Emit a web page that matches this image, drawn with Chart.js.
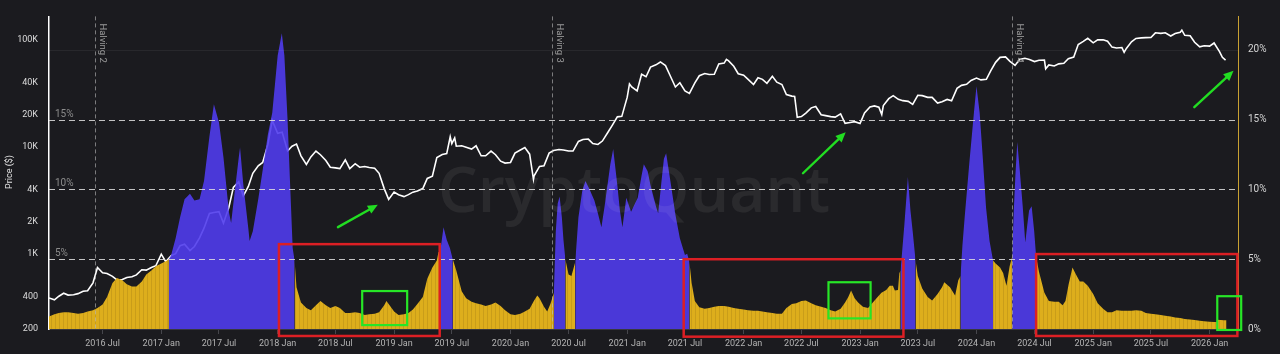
<!DOCTYPE html>
<html><head><meta charset="utf-8"><title>BTC price vs ratio</title>
<script src="https://cdn.jsdelivr.net/npm/chart.js@4.4.1/dist/chart.umd.min.js"></script>
<style>html,body{margin:0;padding:0;background:#1b1b1f;overflow:hidden}canvas{display:block}</style>
</head><body>
<canvas id="c" width="1280" height="354" style="width:1280px;height:354px"></canvas>
<script>
// ---------------- DATA ----------------
const priceDates = [
'2016-01-15','2016-02-01','2016-02-15','2016-03-01','2016-03-15','2016-04-01','2016-04-15','2016-05-01','2016-05-15','2016-06-01','2016-06-15','2016-07-01','2016-07-15','2016-08-01','2016-08-15','2016-09-01','2016-09-15','2016-10-01','2016-10-15','2016-11-01','2016-11-15','2016-12-01','2016-12-15',
'2017-01-01','2017-01-15','2017-02-01','2017-02-15','2017-03-01','2017-03-15','2017-04-01','2017-04-15','2017-05-01','2017-05-15','2017-06-01','2017-06-15','2017-07-01','2017-07-15','2017-08-01','2017-08-15','2017-09-01','2017-09-15','2017-10-01','2017-10-15','2017-11-01','2017-11-15','2017-12-01','2017-12-15',
'2018-01-01','2018-01-15','2018-02-01','2018-02-15','2018-03-01','2018-03-15','2018-04-01','2018-04-15','2018-05-01','2018-05-15','2018-06-01','2018-06-15','2018-07-01','2018-07-15','2018-08-01','2018-08-15','2018-09-01','2018-09-15','2018-10-01','2018-10-15','2018-11-01','2018-11-15','2018-12-01','2018-12-15',
'2019-01-01','2019-01-15','2019-02-01','2019-02-15','2019-03-01','2019-03-15','2019-04-01','2019-04-15','2019-05-01','2019-05-15','2019-06-01','2019-06-15','2019-06-26','2019-07-01','2019-07-10','2019-07-15','2019-08-01','2019-08-15','2019-09-01','2019-09-15','2019-10-01','2019-10-15','2019-11-01','2019-11-15','2019-12-01','2019-12-15',
'2020-01-01','2020-01-15','2020-02-01','2020-02-15','2020-03-01','2020-03-13','2020-03-15','2020-04-01','2020-04-15','2020-05-01','2020-05-15','2020-06-01','2020-06-15','2020-07-01','2020-07-15','2020-08-01','2020-08-15','2020-09-01','2020-09-15','2020-10-01','2020-10-15','2020-11-01','2020-11-15','2020-12-01','2020-12-15',
'2021-01-01','2021-01-08','2021-01-15','2021-02-01','2021-02-15','2021-03-01','2021-03-15','2021-04-01','2021-04-15','2021-05-01','2021-05-15','2021-06-01','2021-06-15','2021-07-01','2021-07-15','2021-08-01','2021-08-15','2021-09-01','2021-09-15','2021-10-01','2021-10-15','2021-11-01','2021-11-08','2021-11-15','2021-12-01','2021-12-15',
'2022-01-01','2022-01-15','2022-02-01','2022-02-15','2022-03-01','2022-03-15','2022-04-01','2022-04-15','2022-05-01','2022-05-15','2022-06-01','2022-06-10','2022-06-18','2022-07-01','2022-07-15','2022-08-01','2022-08-15','2022-09-01','2022-09-15','2022-10-01','2022-10-15','2022-11-01','2022-11-15','2022-12-01','2022-12-15',
'2023-01-01','2023-01-15','2023-02-01','2023-02-15','2023-03-01','2023-03-10','2023-03-15','2023-04-01','2023-04-15','2023-05-01','2023-05-15','2023-06-01','2023-06-15','2023-07-01','2023-07-15','2023-08-01','2023-08-15','2023-09-01','2023-09-15','2023-10-01','2023-10-15','2023-11-01','2023-11-15','2023-12-01','2023-12-15',
'2024-01-01','2024-01-15','2024-02-01','2024-02-15','2024-03-01','2024-03-15','2024-04-01','2024-04-15','2024-05-01','2024-05-15','2024-06-01','2024-06-15','2024-07-01','2024-07-15','2024-08-01','2024-08-05','2024-08-15','2024-09-01','2024-09-15','2024-10-01','2024-10-15','2024-11-01','2024-11-15','2024-12-01','2024-12-15',
'2025-01-01','2025-01-15','2025-02-01','2025-02-15','2025-03-01','2025-03-15','2025-04-01','2025-04-08','2025-04-15','2025-05-01','2025-05-15','2025-06-01','2025-06-15','2025-07-01','2025-07-15','2025-08-01','2025-08-15','2025-09-01','2025-09-15','2025-10-01','2025-10-06','2025-10-15','2025-11-01','2025-11-15','2025-12-01','2025-12-15',
'2026-01-01','2026-01-15','2026-02-01','2026-02-10','2026-02-20'
];
const priceValues = [
390,375,405,432,415,418,428,450,455,540,750,670,660,620,575,580,605,615,640,715,710,750,780,
1000,850,970,1010,1200,1240,1080,1180,1420,1750,2400,2450,2500,1950,2750,4200,4750,3500,4300,5700,6700,7200,10500,17800,
13500,13800,9200,10200,10700,8300,6900,8100,9200,8500,7500,6500,6400,6300,7600,6300,7000,6500,6600,6450,6350,5700,4100,3250,
3800,3600,3450,3600,3800,3900,4100,5100,5350,8000,8550,8700,12500,10800,12200,10200,10300,10000,9600,10300,8300,8300,9200,8500,7400,7100,
7200,8800,9400,9900,8600,5000,5400,6600,6700,8800,9300,9500,9400,9200,9200,11300,11800,11900,10800,10600,11400,13700,16000,19200,19400,
29300,39000,36500,33500,48000,45500,56000,58800,62500,57800,47000,36500,40000,33500,31800,39800,46500,48800,47700,48000,60000,61000,66000,64000,57000,48500,
47000,43000,38500,44500,43000,39500,46000,40500,38500,31000,30000,29800,19000,19300,20800,23300,24000,20100,19700,19300,19100,20500,16700,17000,17300,
16600,20900,23700,24300,23600,20200,24500,28400,30300,28000,27200,26800,25100,30500,30300,29200,29200,25800,26600,27900,27100,35400,37800,38700,42000,
44200,42500,43000,52000,62000,69000,69700,63400,58000,66000,67700,66000,63000,64800,65000,54000,58700,57300,60000,60800,67000,69500,91000,97200,104000,
94400,100500,100600,97500,86000,84300,85200,77000,83700,96500,103700,105000,105500,105700,117000,115700,117300,109200,115300,118600,124000,111000,110000,95500,86500,88500,
88000,94000,78000,69000,65000
];

const ratioDates = [
'2016-01-15','2016-02-01','2016-02-15','2016-03-01','2016-03-15','2016-04-01','2016-04-15','2016-05-01','2016-05-15','2016-06-01','2016-06-15','2016-07-01','2016-07-15','2016-08-01','2016-08-15','2016-09-01','2016-09-15','2016-10-01','2016-10-15','2016-11-01','2016-11-15','2016-12-01','2016-12-15',
'2017-01-01','2017-01-15','2017-01-25','2017-02-01','2017-02-15','2017-03-01','2017-03-15','2017-04-01','2017-04-15','2017-05-01','2017-05-15','2017-06-01','2017-06-15','2017-07-01','2017-07-15','2017-08-01','2017-08-08','2017-08-15','2017-09-01','2017-09-05','2017-09-15','2017-10-01','2017-10-05','2017-10-15','2017-11-01','2017-11-15','2017-12-01','2017-12-15',
'2018-01-01','2018-01-14','2018-01-22','2018-02-01','2018-02-10','2018-02-17','2018-02-23','2018-03-01','2018-03-15','2018-04-01','2018-04-15','2018-05-01','2018-05-15','2018-06-01','2018-06-15','2018-07-01','2018-07-15','2018-08-01','2018-08-15','2018-09-01','2018-09-15','2018-10-01','2018-10-15','2018-11-01','2018-11-15','2018-12-01','2018-12-08','2018-12-15',
'2019-01-01','2019-01-15','2019-02-01','2019-02-15','2019-03-01','2019-03-15','2019-04-01','2019-04-15','2019-05-01','2019-05-15','2019-05-20','2019-05-26','2019-06-05','2019-06-15','2019-06-25','2019-07-04','2019-07-15','2019-08-01','2019-08-15','2019-09-01','2019-09-15','2019-10-01','2019-10-15','2019-11-01','2019-11-15','2019-12-01','2019-12-15',
'2020-01-01','2020-01-15','2020-02-01','2020-02-15','2020-03-01','2020-03-15','2020-03-25','2020-04-01','2020-04-15','2020-04-25','2020-05-05','2020-05-12','2020-05-16','2020-05-22','2020-05-28','2020-06-03','2020-06-10','2020-06-15','2020-06-21','2020-07-01','2020-07-10','2020-07-22','2020-08-01','2020-08-13','2020-08-23','2020-09-05','2020-09-20','2020-10-01','2020-10-12','2020-10-22','2020-10-31','2020-11-09','2020-11-18','2020-12-01','2020-12-09','2020-12-17','2020-12-29',
'2021-01-13','2021-02-03','2021-02-15','2021-02-22','2021-03-06','2021-03-15','2021-04-01','2021-04-08','2021-04-18','2021-04-26','2021-05-03','2021-05-15','2021-06-01','2021-06-15','2021-07-01','2021-07-08','2021-07-15','2021-07-22','2021-08-01','2021-08-15','2021-09-01','2021-09-15','2021-10-01','2021-10-15','2021-11-01','2021-11-15','2021-12-01','2021-12-15',
'2022-01-01','2022-01-15','2022-02-01','2022-02-15','2022-03-01','2022-03-15','2022-04-01','2022-04-15','2022-05-01','2022-05-15','2022-06-01','2022-06-15','2022-07-01','2022-07-15','2022-08-01','2022-08-15','2022-09-01','2022-09-15','2022-10-01','2022-10-15','2022-11-01','2022-11-15','2022-11-25','2022-12-04','2022-12-15','2022-12-26',
'2023-01-10','2023-01-26','2023-02-10','2023-02-25','2023-03-09','2023-03-24','2023-04-04','2023-04-14','2023-04-20','2023-04-30','2023-05-04','2023-05-08','2023-05-20','2023-05-31','2023-06-08','2023-06-15','2023-06-24','2023-07-01','2023-07-15','2023-08-01','2023-08-15','2023-09-01','2023-09-15','2023-09-22','2023-10-10','2023-10-26','2023-11-05','2023-11-12','2023-11-18','2023-11-25','2023-12-10','2023-12-24',
'2024-01-01','2024-01-11','2024-01-21','2024-01-31','2024-02-11','2024-02-22','2024-03-01','2024-03-15','2024-03-25','2024-04-04','2024-04-14','2024-04-22','2024-04-27','2024-05-02','2024-05-08','2024-05-16','2024-05-25','2024-06-02','2024-06-08','2024-06-14','2024-06-22','2024-06-30','2024-07-06','2024-07-15','2024-08-01','2024-08-15','2024-09-01','2024-09-15','2024-09-27','2024-10-06','2024-10-16','2024-10-28','2024-11-08','2024-11-20','2024-12-01','2024-12-15',
'2025-01-01','2025-01-15','2025-02-01','2025-02-15','2025-03-01','2025-03-15','2025-04-01','2025-04-15','2025-05-01','2025-05-15','2025-06-01','2025-06-15','2025-07-01','2025-07-15','2025-08-01','2025-08-15','2025-09-01','2025-09-15','2025-10-01','2025-10-15','2025-11-01','2025-11-15','2025-12-01','2025-12-15',
'2026-01-01','2026-01-15','2026-01-23','2026-01-24','2026-02-05','2026-02-15','2026-02-23'
];
const ratioValues = [
0.9,1.05,1.15,1.2,1.2,1.15,1.1,1.15,1.25,1.35,1.5,1.75,2.3,3.3,3.65,3.5,3.2,3.05,3.05,3.4,3.9,4.2,4.5,
4.7,4.85,5.0,5.3,6.5,8.0,9.3,9.7,9.2,9.3,10.6,13.8,16.1,14.8,12.3,8.4,7.6,9.0,12.3,13.0,10.4,7.2,6.3,7.0,9.3,11.4,13.9,15.5,
19.6,21.2,19.6,15.0,9.8,5.8,4.9,3.0,1.9,1.5,1.35,1.7,2.0,1.7,1.5,1.65,1.5,1.15,1.15,1.2,1.15,1.0,1.05,1.1,1.2,1.7,2.0,1.8,
1.25,1.0,1.05,1.15,1.4,1.8,2.3,3.6,4.4,4.9,5.5,5.6,7.3,6.4,5.8,5.0,4.2,2.7,2.2,1.95,1.85,1.75,1.65,1.75,1.9,1.65,1.35,
1.05,1.0,1.1,1.25,1.45,2.05,2.4,2.2,1.6,1.25,1.8,2.3,2.6,7.0,9.0,9.5,8.0,6.4,5.0,3.9,3.8,4.8,8.0,9.9,10.6,10.0,9.2,8.3,7.3,8.8,10.3,11.8,12.9,10.3,8.5,7.3,9.4,
8.4,9.4,11.0,11.8,11.3,10.3,8.8,8.3,10.5,12.2,12.6,10.8,8.2,6.5,5.3,5.4,4.8,3.3,2.0,1.55,1.45,1.5,1.6,1.65,1.65,1.6,1.5,1.45,
1.4,1.35,1.3,1.3,1.25,1.2,1.15,1.1,1.1,1.5,1.8,1.85,2.0,2.05,1.85,1.7,1.6,1.5,1.35,1.25,1.45,1.9,2.3,2.75,2.2,1.9,
1.6,1.5,1.9,2.3,2.6,2.8,3.1,3.1,2.75,2.8,4.0,4.2,7.5,10.9,8.5,7.0,4.9,3.8,2.9,2.3,2.05,2.5,3.0,3.35,3.0,2.4,3.5,3.8,6.0,8.0,12.0,15.5,
17.4,15.5,12.2,8.7,6.3,4.9,4.7,4.4,4.0,3.1,4.5,5.2,8.5,11.0,13.4,11.3,8.8,6.2,7.4,8.5,8.8,7.0,5.2,4.1,2.6,2.0,1.95,1.95,1.7,2.0,3.2,4.4,3.9,3.4,3.4,3.1,
2.5,1.85,1.45,1.2,1.2,1.35,1.3,1.3,1.3,1.35,1.3,1.15,1.1,1.05,1.0,0.95,0.9,0.82,0.78,0.72,0.68,0.64,0.6,0.56,
0.52,0.5,0.5,0.66,0.65,0.63,0.62
];
// periods drawn in purple (start, end); everything else is yellow
const purpleSpans = [
['2017-01-25','2018-02-23'],['2019-05-26','2019-07-04'],['2020-05-16','2020-06-21'],['2020-07-22','2021-07-15'],
['2023-05-08','2023-06-24'],['2023-11-12','2024-02-22'],['2024-04-22','2024-07-06']
];

const xRange = ['2016-01-15','2026-03-31'];
const xTickDates = ['2016-07-01','2017-01-01','2017-07-01','2018-01-01','2018-07-01','2019-01-01','2019-07-01','2020-01-01','2020-07-01','2021-01-01','2021-07-01','2022-01-01','2022-07-01','2023-01-01','2023-07-01','2024-01-01','2024-07-01','2025-01-01','2025-07-01','2026-01-01'];
const xTickLabels = ['2016 Jul','2017 Jan','2017 Jul','2018 Jan','2018 Jul','2019 Jan','2019 Jul','2020 Jan','2020 Jul','2021 Jan','2021 Jul','2022 Jan','2022 Jul','2023 Jan','2023 Jul','2024 Jan','2024 Jul','2025 Jan','2025 Jul','2026 Jan'];
const priceTicks = [200,400,1000,2000,4000,10000,20000,40000,100000];
const priceTickLabels = ['200','400','1K','2K','4K','10K','20K','40K','100K'];
const priceRange = [200,166600];
const ratioTicks = [0,5,10,15,20];
const ratioRange = [0,22.4];
const levelLines = [5,10,15];
const halvingDates = ['2016-06-08','2020-05-11','2024-04-20'];
const halvingLabels = ['Halving 2','Halving 3','Halving 4'];
// annotations: [startDate, endDate, lowPct, highPct]
const redBoxes = [['2018-01-05','2019-05-24',-0.5,6.08],['2021-06-27','2023-05-17',-0.55,5.0],['2024-07-06','2026-03-29',-0.5,5.37]];
const greenBoxes = [['2018-09-23','2019-02-11',0.28,2.72],['2022-09-24','2023-02-03',0.76,3.35],['2026-01-25','2026-04-10',-0.07,2.35]];
// arrows: [fromDate, fromPct, toDate, toPct]
const arrows = [['2018-07-09',7.3,'2018-11-11',8.9],['2022-07-06',11.16,'2022-11-17',14.1],['2025-11-14',15.9,'2026-03-17',18.5]];
const watermarkText = 'CryptoQuant';
const axisTitle = 'Price ($)';

// ---------------- BUILD ----------------
const day = s => Date.UTC(+s.slice(0,4), +s.slice(5,7)-1, +s.slice(8,10)) / 864e5;
const spans = purpleSpans.map(([a,b]) => [day(a), day(b)]);
const inPurple = d => spans.some(([a,b]) => d >= a && d <= b);
const inPurpleInside = d => spans.some(([a,b]) => d > a && d < b);

const pricePts = priceDates.map((d,i) => ({x: day(d), y: priceValues[i]}));
const yellowPts = ratioDates.map((d,i) => ({x: day(d), y: inPurpleInside(day(d)) ? null : ratioValues[i]}));
const purplePts = ratioDates.map((d,i) => ({x: day(d), y: inPurple(day(d)) ? ratioValues[i] : null}));

// subtle bar-stripe pattern for the yellow area
const pc = document.createElement('canvas'); pc.width = 4; pc.height = 4;
const pctx = pc.getContext('2d');
pctx.fillStyle = '#ddae1c'; pctx.fillRect(0,0,4,4);
pctx.fillStyle = '#c99d19'; pctx.fillRect(3,0,1,4);
const yellowFill = document.getElementById('c').getContext('2d').createPattern(pc, 'repeat');

const overlay = {
  id: 'overlay',
  afterDatasetsDraw(chart) {
    const {ctx, chartArea: a, scales} = chart;
    const X = scales.x, R = scales.yR;
    const px = d => X.getPixelForValue(day(d));
    const line = (x1,y1,x2,y2) => { ctx.beginPath(); ctx.moveTo(x1,y1); ctx.lineTo(x2,y2); ctx.stroke(); };
    ctx.save();
    // watermark, fitted to ~392px wide
    ctx.font = '600 70px "Open Sans"';
    const fs = 70 * 392 / ctx.measureText(watermarkText).width;
    ctx.font = '600 ' + fs.toFixed(1) + 'px "Open Sans"';
    ctx.fillStyle = 'rgba(255,255,255,0.065)';
    ctx.textAlign = 'center'; ctx.textBaseline = 'alphabetic';
    ctx.fillText(watermarkText, 634, 212);
    // faint grid at 20%
    ctx.strokeStyle = 'rgba(255,255,255,0.06)'; ctx.lineWidth = 1;
    const g = Math.round(R.getPixelForValue(20)) + 0.5; line(a.left, g, a.right, g);
    // dashed level lines
    ctx.setLineDash([6,4]); ctx.strokeStyle = 'rgba(225,225,225,0.85)'; ctx.lineWidth = 1.2;
    levelLines.forEach(v => { const y = Math.round(R.getPixelForValue(v)) + 0.5; line(a.left, y, a.right, y); });
    ctx.setLineDash([]);
    ctx.font = '10px Roboto'; ctx.fillStyle = '#8c8c8c'; ctx.textAlign = 'left';
    levelLines.forEach(v => ctx.fillText(v + '%', a.left + 6, R.getPixelForValue(v) - 3));
    // halving lines
    halvingDates.forEach((d,i) => {
      const x = Math.round(px(d)) + 0.5;
      ctx.setLineDash([4,3]); ctx.strokeStyle = 'rgba(190,190,190,0.6)'; ctx.lineWidth = 1;
      line(x, a.top, x, a.bottom);
      ctx.setLineDash([]);
      ctx.save(); ctx.translate(x + 2, a.top + 7); ctx.rotate(Math.PI/2);
      ctx.font = '9.5px Roboto'; ctx.fillStyle = '#9a9a9a'; ctx.textBaseline = 'bottom'; ctx.textAlign = 'left';
      ctx.fillText(halvingLabels[i], 0, 0); ctx.restore();
    });
    // axis title
    ctx.save(); ctx.translate(10, 172); ctx.rotate(-Math.PI/2);
    ctx.font = '9px Roboto'; ctx.fillStyle = '#e0e0e0'; ctx.textAlign = 'center'; ctx.textBaseline = 'middle';
    ctx.fillText(axisTitle, 0, 0); ctx.restore();
    // boxes
    const box = (b, color, w) => {
      const x1 = px(b[0]), x2 = px(b[1]), y1 = R.getPixelForValue(b[3]), y2 = R.getPixelForValue(b[2]);
      ctx.strokeStyle = color; ctx.lineWidth = w; ctx.strokeRect(x1, y1, x2 - x1, y2 - y1);
    };
    redBoxes.forEach(b => box(b, '#dc1f24', 2.5));
    greenBoxes.forEach(b => box(b, '#27e627', 2.2));
    // arrows
    arrows.forEach(r => {
      const x1 = px(r[0]), y1 = R.getPixelForValue(r[1]), x2 = px(r[2]), y2 = R.getPixelForValue(r[3]);
      const ang = Math.atan2(y2 - y1, x2 - x1), hl = 10, hw = 4.5;
      ctx.strokeStyle = ctx.fillStyle = '#22dd22'; ctx.lineWidth = 2.4; ctx.lineCap = 'round';
      line(x1, y1, x2 - hl * 0.8 * Math.cos(ang), y2 - hl * 0.8 * Math.sin(ang));
      const bx = x2 - hl * Math.cos(ang), by = y2 - hl * Math.sin(ang);
      ctx.beginPath(); ctx.moveTo(x2, y2);
      ctx.lineTo(bx + hw * Math.sin(ang), by - hw * Math.cos(ang));
      ctx.lineTo(bx - hw * Math.sin(ang), by + hw * Math.cos(ang));
      ctx.closePath(); ctx.fill();
    });
    ctx.restore();
  }
};

Chart.defaults.font.family = 'Roboto';
new Chart(document.getElementById('c'), {
  type: 'line',
  data: { datasets: [
    { label: 'Price', data: pricePts, yAxisID: 'yP', borderColor: '#ffffff', borderWidth: 1.6, pointRadius: 0, fill: false, order: 3 },
    { label: 'Ratio', data: yellowPts, yAxisID: 'yR', borderColor: 'rgba(0,0,0,0)', borderWidth: 0, backgroundColor: yellowFill, fill: 'origin', pointRadius: 0, order: 2 },
    { label: 'Ratio (high)', data: purplePts, yAxisID: 'yR', borderColor: 'rgba(0,0,0,0)', borderWidth: 0, backgroundColor: 'rgba(80,60,236,0.9)', fill: 'origin', pointRadius: 0, order: 1 }
  ]},
  options: {
    responsive: false, animation: false, devicePixelRatio: 1, spanGaps: false,
    layout: { padding: { top: 13, left: 0, right: 0, bottom: 0 } },
    plugins: { legend: { display: false }, tooltip: { enabled: false } },
    elements: { line: { tension: 0 }, point: { radius: 0 } },
    scales: {
      x: { type: 'linear', position: 'bottom', min: day(xRange[0]), max: day(xRange[1]),
        afterBuildTicks: s => { s.ticks = xTickDates.map(d => ({ value: day(d) })); },
        afterFit: s => { s.height = 25; },
        ticks: { autoSkip: false, maxRotation: 0, color: '#b4b4b4', font: { size: 9 }, padding: 4, callback: (v, i) => xTickLabels[i] },
        grid: { display: true, drawOnChartArea: false, drawTicks: true, tickLength: 5, color: '#46464c' },
        border: { display: true, color: '#38383e', width: 1 } },
      yP: { type: 'logarithmic', position: 'left', min: priceRange[0], max: priceRange[1],
        afterBuildTicks: s => { s.ticks = priceTicks.map(v => ({ value: v })); },
        afterFit: s => { s.width = 49; },
        ticks: { color: '#dcdcdc', font: { size: 9 }, padding: 11, callback: (v, i) => priceTickLabels[i] },
        grid: { display: false, drawTicks: false },
        border: { display: true, color: '#ffffff', width: 1.5 } },
      yR: { type: 'linear', position: 'right', min: ratioRange[0], max: ratioRange[1],
        afterBuildTicks: s => { s.ticks = ratioTicks.map(v => ({ value: v })); },
        afterFit: s => { s.width = 42; },
        ticks: { color: '#d4d4d4', font: { size: 10 }, padding: 10, callback: (v, i) => ratioTicks[i] + '%' },
        grid: { display: false, drawTicks: false },
        border: { display: true, color: '#c9a132', width: 1 } }
    }
  },
  plugins: [overlay]
});
</script>
</body></html>
